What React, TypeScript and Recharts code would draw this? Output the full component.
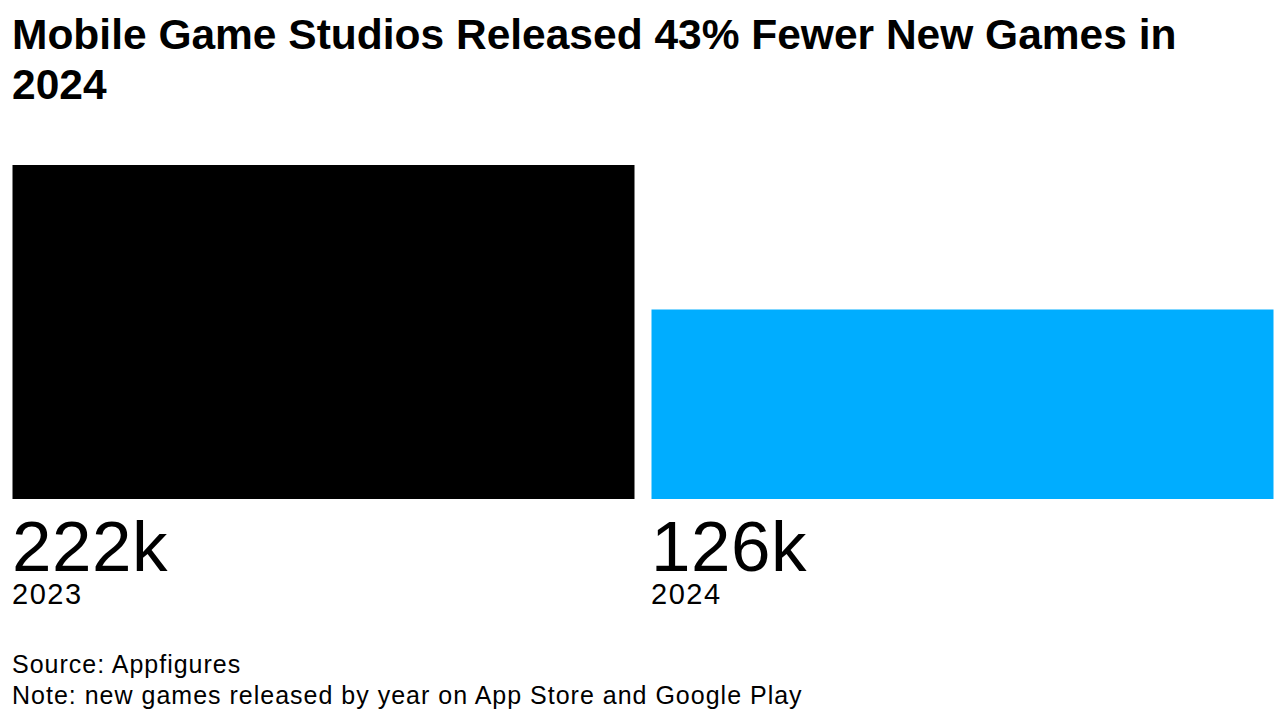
import { BarChart, Bar, XAxis, YAxis, Cell } from "recharts";

const years = ["2023", "2024"];
const newGames = [222, 126]; // thousands
const barColors = ["#000000", "#00adff"];

const chartData = years.map((year, i) => ({ year, games: newGames[i] }));

const FONT = '"Liberation Sans", Arial, sans-serif';
const BAR_SIZE = 622;

// value + year printed under each bar, aligned to the bar's left edge
function YearTick(props: any) {
  const { x, y, payload, index } = props;
  const left = x - BAR_SIZE / 2;
  return (
    <g>
      <text x={left} y={y + 64} fontSize={71} fill="#000" fontFamily={FONT} letterSpacing={0.5}>
        {`${newGames[index]}k`}
      </text>
      <text x={left} y={y + 97} fontSize={29} fill="#000" fontFamily={FONT} letterSpacing={1.5}>
        {payload.value}
      </text>
    </g>
  );
}

export default function App() {
  return (
    <div
      style={{
        position: "absolute",
        top: 0,
        left: 0,
        width: 1287,
        height: 717,
        background: "#fff",
        fontFamily: FONT,
        color: "#000",
      }}
    >
      <div
        style={{
          position: "absolute",
          top: 10,
          left: 12,
          width: 1230,
          fontSize: 42.5,
          fontWeight: 700,
          lineHeight: "50px",
        }}
      >
        Mobile Game Studios Released 43% Fewer New Games in 2024
      </div>
      <div style={{ position: "absolute", top: 0, left: 0 }}>
        <BarChart
          width={1287}
          height={717}
          data={chartData}
          margin={{ top: 165, right: 5.5, bottom: 98, left: 3.5 }}
        >
          <YAxis hide domain={[0, 222]} />
          <XAxis
            dataKey="year"
            axisLine={false}
            tickLine={false}
            height={120}
            interval={0}
            tick={<YearTick />}
          />
          <Bar dataKey="games" barSize={BAR_SIZE} isAnimationActive={false}>
            {chartData.map((d, i) => (
              <Cell key={d.year} fill={barColors[i]} />
            ))}
          </Bar>
        </BarChart>
      </div>
      <div
        style={{
          position: "absolute",
          top: 649,
          left: 12,
          fontSize: 25,
          letterSpacing: 1,
          lineHeight: "31px",
        }}
      >
        <div>Source: Appfigures</div>
        <div>Note: new games released by year on App Store and Google Play</div>
      </div>
    </div>
  );
}
